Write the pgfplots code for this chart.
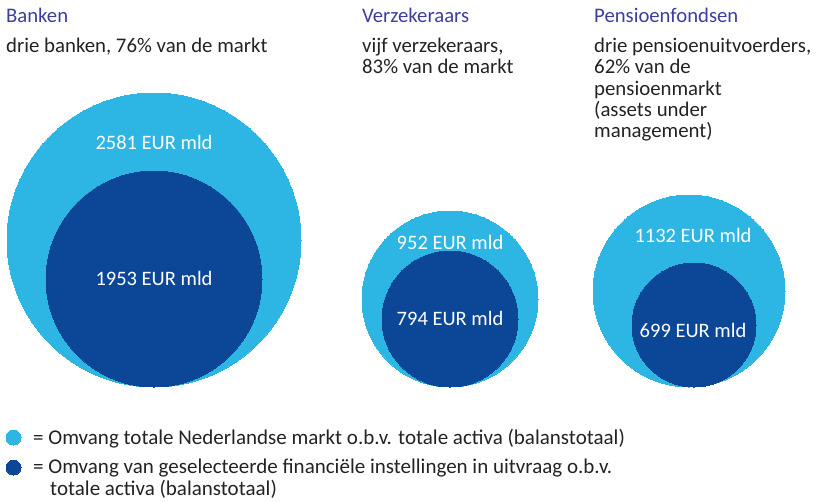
\documentclass[border=0pt]{standalone}
\usepackage{pgfplots}
\pgfplotsset{compat=1.18}
\usepackage{pgfplotstable}
\usepackage{fontspec}
\setmainfont{Carlito}
\definecolor{lightc}{RGB}{45,181,228}
\definecolor{darkc}{RGB}{11,71,150}
\definecolor{titlec}{RGB}{62,60,160}
\definecolor{textc}{RGB}{35,35,35}

% circles: x, y (pixels, y downward), radius
\pgfplotstableread{
x y r
154 240 147
450 299 88
689 291 96
13.5 437.5 7.5
}\totaal
\pgfplotstableread{
x y r
154 279 108
450 319 68
694 325 62
13.5 467.5 7.5
}\geselecteerd
\pgfplotstableread{
x y label
154 142 {2581 EUR mld}
154 278 {1953 EUR mld}
450 242 {952 EUR mld}
450 318 {794 EUR mld}
693 235 {1132 EUR mld}
693 330 {699 EUR mld}
}\labels

\begin{document}
\begin{tikzpicture}
\begin{axis}[
  scale only axis, width=819pt, height=501pt,
  xmin=0, xmax=819, ymin=0, ymax=501, y dir=reverse,
  hide axis, clip=false,
]
\coordinate (p1) at (rel axis cs:0,0);
\coordinate (p2) at (rel axis cs:1,1);
\addplot[lightc, scatter, only marks, mark=*, point meta=explicit,
  mark options={fill=lightc, draw=lightc, line width=0pt},
  visualization depends on={\thisrow{r} \as \rad},
  scatter/@pre marker code/.code={\pgfmathsetmacro{\rr}{\rad}\scope[mark size=\rr pt, fill=lightc, draw=lightc]},
  scatter/@post marker code/.code={\endscope}]
  table[x=x, y=y, meta=r] {\totaal};
\addplot[darkc, scatter, only marks, mark=*, point meta=explicit,
  mark options={fill=darkc, draw=darkc, line width=0pt},
  visualization depends on={\thisrow{r} \as \rad},
  scatter/@pre marker code/.code={\pgfmathsetmacro{\rr}{\rad}\scope[mark size=\rr pt, fill=darkc, draw=darkc]},
  scatter/@post marker code/.code={\endscope}]
  table[x=x, y=y, meta=r] {\geselecteerd};
\addplot[only marks, mark=none, point meta=explicit symbolic,
  nodes near coords, nodes near coords align={center},
  every node near coord/.append style={anchor=center, inner sep=0pt, text=white, font=\fontsize{20.5}{24}\selectfont}]
  table[x=x, y=y, meta=label] {\labels};

\tikzset{t/.style={anchor=base west, inner sep=0pt},
         h/.style={t, text=titlec, font=\fontsize{20.7}{24}\selectfont},
         b/.style={t, text=textc, font=\fontsize{20.8}{24}\selectfont},
         l/.style={t, text=textc, font=\fontsize{21}{24}\selectfont}}
\node[h] at (axis cs:6,22) {Banken};
\node[b] at (axis cs:6,52) {drie banken, 76\% van de markt};
\node[h] at (axis cs:362,22) {Verzekeraars};
\node[b] at (axis cs:362,52) {vijf verzekeraars,};
\node[b] at (axis cs:362,73) {83\% van de markt};
\node[h] at (axis cs:594,22) {Pensioenfondsen};
\node[b] at (axis cs:594,52) {drie pensioenuitvoerders,};
\node[b] at (axis cs:594,73) {62\% van de};
\node[b] at (axis cs:594,95) {pensioenmarkt};
\node[b] at (axis cs:594,116) {(assets under};
\node[b] at (axis cs:594,137) {management)};

\node[l] at (axis cs:33,444.5) {= Omvang totale Nederlandse markt o.b.v. totale activa (balanstotaal)};
\node[l] at (axis cs:33,473.5) {= Omvang van geselecteerde financiële instellingen in uitvraag o.b.v.};
\node[l] at (axis cs:50,495.5) {totale activa (balanstotaal)};
\end{axis}
\pgfresetboundingbox
\path (p1) rectangle (p2);
\end{tikzpicture}
\end{document}
